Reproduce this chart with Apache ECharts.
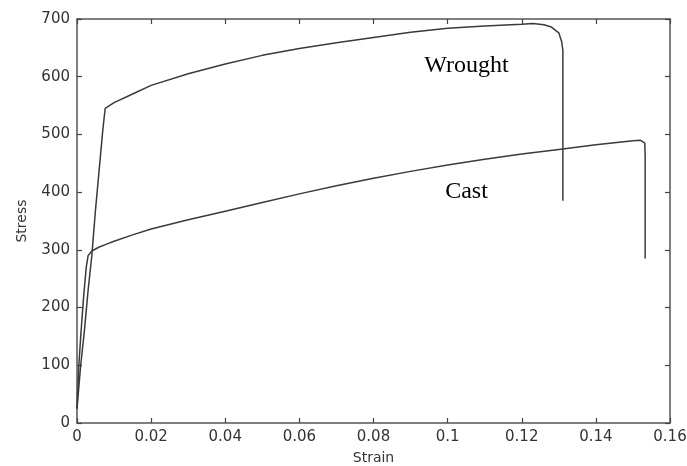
<!DOCTYPE html>
<html>
<head>
<meta charset="utf-8">
<script src="https://cdn.jsdelivr.net/npm/echarts@6/dist/echarts.min.js"></script>
<style>
  html, body { margin: 0; padding: 0; background: #fff; }
  #main { width: 687px; height: 466px; }
</style>
</head>
<body>
<div id="main"></div>
<script>
// stress-strain curves, values
var wroughtStrain = [0, 0.001, 0.002, 0.003, 0.004, 0.005, 0.006, 0.007, 0.0076, 0.01, 0.015, 0.02, 0.03, 0.04, 0.05, 0.06, 0.07, 0.08, 0.09, 0.1, 0.11, 0.12, 0.123, 0.126, 0.128, 0.13, 0.1308, 0.1311, 0.1311];
var wroughtStress = [25, 100, 160, 230, 290, 370, 440, 510, 545, 555, 570, 585, 605, 622, 637, 649, 659, 668, 677, 684, 688, 691, 692, 690, 686, 676, 660, 645, 385];

var castStrain = [0, 0.0005, 0.001, 0.0018, 0.0025, 0.003, 0.004, 0.006, 0.008, 0.01, 0.015, 0.02, 0.03, 0.04, 0.05, 0.06, 0.07, 0.08, 0.09, 0.1, 0.11, 0.12, 0.13, 0.14, 0.15, 0.152, 0.1532, 0.1533, 0.1533];
var castStress = [25, 100, 150, 220, 270, 290, 298, 305, 310, 315, 326, 336, 352, 367, 382, 397, 411, 424, 436, 447, 457, 466, 474, 482, 489, 490, 485, 460, 285];

var curveNames = ['Wrought', 'Cast'];
var labelAt = [[0.1051, 619], [0.1051, 400]];

function pairs(xs, ys) {
    var out = [];
    for (var i = 0; i < xs.length; i++) {
        out.push([xs[i], ys[i]]);
    }
    return out;
}

var myChart = echarts.init(document.getElementById('main'));

var axisLine = { show: true, onZero: false, lineStyle: { color: '#555', width: 1.5 } };
var axisTick = { show: true, inside: true, length: 5, lineStyle: { color: '#444', width: 1.2 } };
var tickFont = { color: '#333', fontFamily: 'DejaVu Sans', fontSize: 15 };

function curve(name, data, at) {
    return {
        name: name,
        type: 'line',
        data: data,
        showSymbol: false,
        animation: false,
        lineStyle: { color: '#3a3a3a', width: 1.5 },
        markPoint: {
            symbol: 'circle',
            symbolSize: 0,
            label: {
                show: true,
                formatter: name,
                color: '#000',
                fontFamily: 'Liberation Serif',
                fontSize: 24,
                position: 'inside'
            },
            data: [{ coord: at }]
        }
    };
}

var option = {
    backgroundColor: '#fff',
    animation: false,
    grid: { left: 77, right: 17, top: 19, bottom: 43, containLabel: false, outerBoundsMode: 'none' },
    xAxis: [
        {
            type: 'value',
            min: 0,
            max: 0.16,
            interval: 0.02,
            name: 'Strain',
            nameLocation: 'middle',
            nameGap: 28,
            nameTextStyle: { color: '#333', fontFamily: 'DejaVu Sans', fontSize: 14 },
            axisLine: axisLine,
            axisTick: axisTick,
            axisLabel: Object.assign({ margin: 7 }, tickFont),
            splitLine: { show: false }
        },
        {
            type: 'value',
            position: 'top',
            min: 0,
            max: 0.16,
            interval: 0.02,
            axisLine: axisLine,
            axisTick: axisTick,
            axisLabel: { show: false },
            splitLine: { show: false }
        }
    ],
    yAxis: [
        {
            type: 'value',
            min: 0,
            max: 700,
            interval: 100,
            name: 'Stress',
            nameLocation: 'middle',
            nameGap: 48,
            nameTextStyle: { color: '#333', fontFamily: 'DejaVu Sans', fontSize: 14 },
            axisLine: axisLine,
            axisTick: axisTick,
            axisLabel: Object.assign({ margin: 7 }, tickFont),
            splitLine: { show: false }
        },
        {
            type: 'value',
            position: 'right',
            min: 0,
            max: 700,
            interval: 100,
            axisLine: axisLine,
            axisTick: axisTick,
            axisLabel: { show: false },
            splitLine: { show: false }
        }
    ],
    series: [
        curve(curveNames[0], pairs(wroughtStrain, wroughtStress), labelAt[0]),
        curve(curveNames[1], pairs(castStrain, castStress), labelAt[1])
    ]
};

myChart.setOption(option);

window.onresize = function () {
    myChart.resize();
};
</script>
</body>
</html>
